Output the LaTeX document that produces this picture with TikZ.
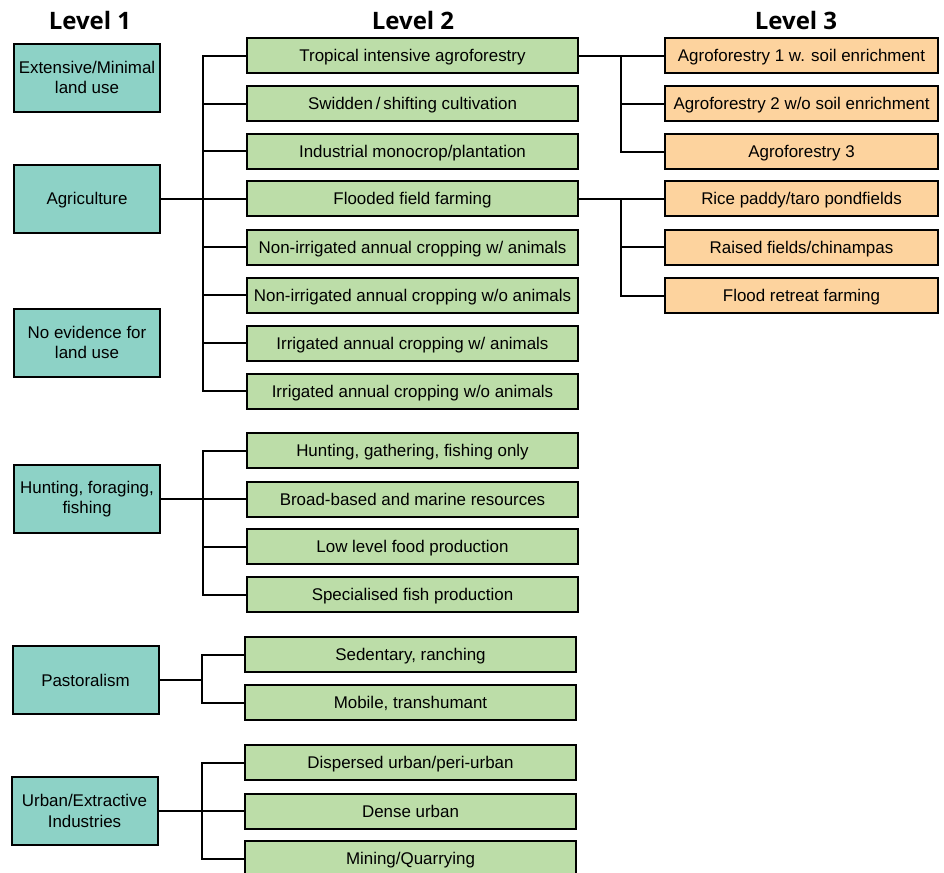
\documentclass[tikz,border=0pt]{standalone}
\usepackage{fontspec}
\setmainfont{Liberation Sans}
\newfontfamily\headfont{Open Sans}
\definecolor{tealbox}{HTML}{8DD2C6}
\definecolor{greenbox}{HTML}{BCDDA8}
\definecolor{orangebox}{HTML}{FDD39E}
\begin{document}
\begin{tikzpicture}[x=0.75pt,y=-0.75pt,
  base/.style={draw=black,line width=1.5pt,inner sep=0pt,font=\fontsize{12.7}{15.5}\selectfont},
  lone/.style={base,fill=tealbox,minimum width=109.5pt,minimum height=51pt},
  multi/.style={align=center},
  single/.style={text height=9.1pt,text depth=0pt},
  ltwo/.style={base,single,fill=greenbox,minimum width=248.25pt,minimum height=26.25pt},
  lthree/.style={base,single,fill=orangebox,minimum width=204.75pt,minimum height=26.25pt},
  head/.style={font=\headfont\bfseries\fontsize{18}{20}\selectfont},
  conn/.style={draw=black,line width=1.5pt}]
\useasboundingbox (0,0) rectangle (944,872);
\begin{scope}
\clip (0,0) rectangle (944,872);
% headings
\node[head] (h1) at (90,20) {Level 1};
\node[head] (h2) at (413,20) {Level 2};
\node[head] (h3) at (796,20) {Level 3};
% level 1
\node[lone,multi] (ext) at (87,77.5) {Extensive/Minimal\\land use};
\node[lone,single] (agr) at (87,198.5) {Agriculture};
\node[lone,multi] (noe) at (87,342.5) {No evidence for\\land use};
\node[lone,multi] (hun) at (87,499) {Hunting, foraging,\\fishing};
\node[lone,single] (pas) at (85.5,680) {Pastoralism};
\node[lone,multi] (urb) at (84.5,811) {Urban/Extractive\\Industries};
% level 2
\node[ltwo] (a1) at (412.5,55.5) {Tropical intensive agroforestry};
\node[ltwo] (a2) at (412.5,103.5) {Swidden\,/\,shifting cultivation};
\node[ltwo] (a3) at (412.5,151) {Industrial monocrop/plantation};
\node[ltwo] (a4) at (412.5,198.5) {Flooded field farming};
\node[ltwo] (a5) at (412.5,247) {Non-irrigated annual cropping w/ animals};
\node[ltwo] (a6) at (412.5,295) {Non-irrigated annual cropping w/o animals};
\node[ltwo] (a7) at (412.5,343) {Irrigated annual cropping w/ animals};
\node[ltwo] (a8) at (412.5,391) {Irrigated annual cropping w/o animals};
\node[ltwo] (h_1) at (412.5,450.5) {Hunting, gathering, fishing only};
\node[ltwo] (h_2) at (412.5,499) {Broad-based and marine resources};
\node[ltwo] (h_3) at (412.5,546.5) {Low level food production};
\node[ltwo] (h_4) at (412.5,594.5) {Specialised fish production};
\node[ltwo] (p1) at (410.5,654.5) {Sedentary, ranching};
\node[ltwo] (p2) at (410.5,702.5) {Mobile, transhumant};
\node[ltwo] (u1) at (410.5,762.5) {Dispersed urban/peri-urban};
\node[ltwo] (u2) at (410.5,811) {Dense urban};
\node[ltwo] (u3) at (410.5,858.5) {Mining/Quarrying};
% level 3
\node[lthree] (t1) at (801.5,55.5) {Agroforestry 1 w. soil enrichment};
\node[lthree] (t2) at (801.5,103.5) {Agroforestry 2 w/o soil enrichment};
\node[lthree] (t3) at (801.5,151.5) {Agroforestry 3};
\node[lthree] (f1) at (801.5,198.5) {Rice paddy/taro pondfields};
\node[lthree] (f2) at (801.5,247) {Raised fields/chinampas};
\node[lthree] (f3) at (801.5,295.5) {Flood retreat farming};
% bus coordinates
\coordinate (ba) at (203,0);
\coordinate (bh) at (203,0);
\coordinate (bp) at (202,0);
\coordinate (bu) at (202,0);
\coordinate (bt) at (621,0);
% agriculture
\draw[conn] (agr.east) -- (agr.east -| a4.west);
\draw[conn] (a1.west) -- (a1.west -| ba) -- (a8.west -| ba) -- (a8.west);
\foreach \n in {a2,a3,a5,a6,a7} \draw[conn] (\n.west) -- (\n.west -| ba);
% hunting
\draw[conn] (hun.east) -- (hun.east -| h_2.west);
\draw[conn] (h_1.west) -- (h_1.west -| bh) -- (h_4.west -| bh) -- (h_4.west);
\foreach \n in {h_2,h_3} \draw[conn] (\n.west) -- (\n.west -| bh);
% pastoralism
\draw[conn] (pas.east) -- (pas.east -| bp);
\draw[conn] (p1.west) -- (p1.west -| bp) -- (p2.west -| bp) -- (p2.west);
% urban
\draw[conn] (urb.east) -- (urb.east -| u2.west);
\draw[conn] (u1.west) -- (u1.west -| bu) -- (u3.west -| bu) -- (u3.west);
% level 3
\draw[conn] (a1.east) -- (t1.west);
\draw[conn] (t1.west -| bt) -- (t3.west -| bt) -- (t3.west);
\draw[conn] (t2.west) -- (t2.west -| bt);
\draw[conn] (a4.east) -- (f1.west);
\draw[conn] (f1.west -| bt) -- (f3.west -| bt) -- (f3.west);
\draw[conn] (f2.west) -- (f2.west -| bt);
\end{scope}
\end{tikzpicture}
\end{document}
